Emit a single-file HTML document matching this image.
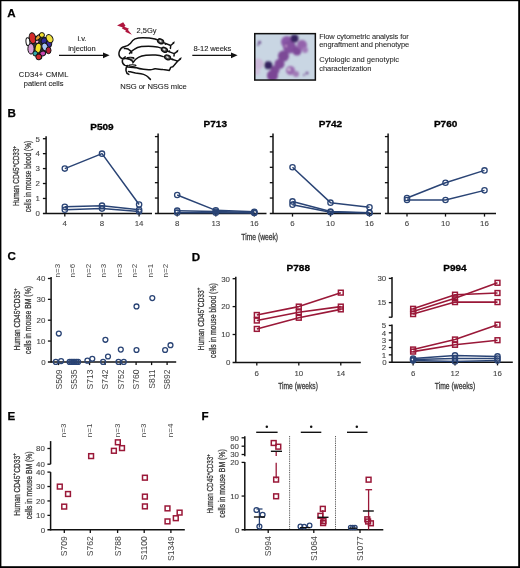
<!DOCTYPE html>
<html><head><meta charset="utf-8"><title>Figure</title>
<style>
html,body{margin:0;padding:0;background:#fff;}
body{width:520px;height:568px;overflow:hidden;}
svg{display:block;font-family:"Liberation Sans", sans-serif;will-change:transform;}
</style></head>
<body>
<svg width="520" height="568" viewBox="0 0 520 568">
<rect width="520" height="568" fill="#fff"/>
<rect x="0" y="0" width="520" height="1.2" fill="#000"/>
<rect x="0" y="0" width="1.4" height="568" fill="#000"/>
<rect x="518.2" y="0" width="1.8" height="568" fill="#000"/>
<rect x="0" y="566.2" width="520" height="1.8" fill="#000"/>
<text x="7.30" y="16.90" font-size="11.6" text-anchor="start" font-weight="bold" fill="#000" stroke="#000" stroke-width="0.25" >A</text>
<text x="7.60" y="116.50" font-size="11.6" text-anchor="start" font-weight="bold" fill="#000" stroke="#000" stroke-width="0.25" >B</text>
<text x="7.40" y="260.40" font-size="11.6" text-anchor="start" font-weight="bold" fill="#000" stroke="#000" stroke-width="0.25" >C</text>
<text x="191.80" y="260.60" font-size="11.6" text-anchor="start" font-weight="bold" fill="#000" stroke="#000" stroke-width="0.25" >D</text>
<text x="7.60" y="420.40" font-size="11.6" text-anchor="start" font-weight="bold" fill="#000" stroke="#000" stroke-width="0.25" >E</text>
<text x="201.40" y="420.40" font-size="11.6" text-anchor="start" font-weight="bold" fill="#000" stroke="#000" stroke-width="0.25" >F</text>
<path d="M31,40 C32,37 34,36 36,36 L40,35.6 L44,36.5 C47,37 49,38 49.5,40.5 C50,43 49.6,46 49,48.5 C48.4,51 47,52.5 45,53.6 C43,55 41.5,56 39,56 C37,56 35.5,54.6 34.4,53.4 C32.6,51.6 31.6,50 31.2,47.5 C30.8,45 30.6,42.5 31,40 Z" fill="#333"/>
<ellipse cx="27.9" cy="41.7" rx="1.95" ry="3.96" transform="rotate(-5 27.9 41.7)" fill="#ffffff" stroke="#151515" stroke-width="1.0"/>
<ellipse cx="37.0" cy="41.2" rx="1.95" ry="2.31" transform="rotate(0 37.0 41.2)" fill="#e8b0e0" stroke="#151515" stroke-width="1.0"/>
<ellipse cx="32.5" cy="38.1" rx="3.22" ry="5.50" transform="rotate(-10 32.5 38.1)" fill="#d42a2a" stroke="#151515" stroke-width="1.0"/>
<ellipse cx="38.1" cy="37.5" rx="1.84" ry="3.41" transform="rotate(45 38.1 37.5)" fill="#e0a030" stroke="#151515" stroke-width="1.0"/>
<ellipse cx="41.9" cy="35.0" rx="2.53" ry="2.42" transform="rotate(0 41.9 35.0)" fill="#f2e030" stroke="#151515" stroke-width="1.0"/>
<ellipse cx="44.6" cy="41.1" rx="3.45" ry="3.30" transform="rotate(20 44.6 41.1)" fill="#2e2a98" stroke="#151515" stroke-width="1.0"/>
<ellipse cx="48.8" cy="43.8" rx="2.88" ry="3.63" transform="rotate(10 48.8 43.8)" fill="#3a2aa0" stroke="#151515" stroke-width="1.0"/>
<ellipse cx="49.6" cy="38.6" rx="3.10" ry="4.29" transform="rotate(-30 49.6 38.6)" fill="#f0e040" stroke="#151515" stroke-width="1.0"/>
<ellipse cx="31.0" cy="48.8" rx="3.10" ry="5.28" transform="rotate(0 31.0 48.8)" fill="#d8a0d8" stroke="#151515" stroke-width="1.0"/>
<ellipse cx="45.0" cy="47.0" rx="2.99" ry="3.96" transform="rotate(-20 45.0 47.0)" fill="#a8c4f4" stroke="#151515" stroke-width="1.0"/>
<ellipse cx="38.1" cy="48.1" rx="2.99" ry="4.95" transform="rotate(10 38.1 48.1)" fill="#f4e428" stroke="#151515" stroke-width="1.0"/>
<ellipse cx="48.5" cy="50.4" rx="2.53" ry="3.30" transform="rotate(0 48.5 50.4)" fill="#b82038" stroke="#151515" stroke-width="1.0"/>
<ellipse cx="35.2" cy="53.5" rx="2.30" ry="2.53" transform="rotate(0 35.2 53.5)" fill="#30a8a8" stroke="#151515" stroke-width="1.0"/>
<ellipse cx="42.7" cy="53.5" rx="2.99" ry="2.42" transform="rotate(-20 42.7 53.5)" fill="#c845b0" stroke="#151515" stroke-width="1.0"/>
<ellipse cx="38.8" cy="56.9" rx="2.88" ry="2.86" transform="rotate(-20 38.8 56.9)" fill="#d02830" stroke="#151515" stroke-width="1.0"/>
<text x="43.60" y="77.20" font-size="7.5" text-anchor="middle" font-weight="normal" fill="#222" stroke="#222" stroke-width="0.1" textLength="49.5">CD34+ CMML</text>
<text x="43.60" y="86.20" font-size="7.5" text-anchor="middle" font-weight="normal" fill="#222" stroke="#222" stroke-width="0.1" >patient cells</text>
<line x1="59.00" y1="55.30" x2="104.50" y2="55.30" stroke="#111" stroke-width="1.3" />
<polygon points="103,52.4 109.6,55.3 103,58.2" fill="#111"/>
<text x="81.90" y="41.40" font-size="7.5" text-anchor="middle" font-weight="normal" fill="#222" stroke="#222" stroke-width="0.1" >i.v.</text>
<text x="81.90" y="51.20" font-size="7.5" text-anchor="middle" font-weight="normal" fill="#222" stroke="#222" stroke-width="0.1" >injection</text>
<polygon points="117.04,25.39 123.22,22.23 125.50,25.86 124.30,26.85 129.04,28.74 127.85,29.73 131.90,34.80 125.25,31.72 126.01,30.79 121.76,28.36 122.83,27.51" fill="#b0163e"/>
<text x="136.60" y="32.70" font-size="7.5" text-anchor="start" font-weight="normal" fill="#222" stroke="#222" stroke-width="0.1" >2,5Gy</text>
<path d="M124.1,46.8 C127,46.2 129,45 130.6,43.2 C132,41 133,39.8 135,38.9 C137.5,37.9 140,37.7 143,37.7 C147,37.7 151,38 155,39 L158.6,40.2 M170.4,48.4 L170.7,45.5 L173.6,43.0 M170.7,45.5 L163.6,42.6 M124.1,46.8 C122.3,47.2 120.4,48.8 119.4,51.2 C118.6,53.4 119,56 120.6,57.6 C121.8,58.8 123.4,59 124.8,58.6 M124.4,48.6 C126.5,48.4 128.8,49 130,50.4 C131,51.4 131.4,52.4 131.8,53 M129.5,53.4 C131,51.8 132.4,50.4 134.2,49.4 C136.5,47.8 139,47 141.5,46.6 C145,46.2 149,46 153,46.4 L157.2,46.9 L162,48.4 M174.0,56.0 L174.2,53.6 L177.4,51.3 M174.2,53.6 L167.4,51.1 M125.2,56.8 C123.6,57.6 122.4,59 122.3,61 C122.3,63 123.2,64.6 125,65.4 C126,65.8 127.2,65.8 127.8,65.6 M125.5,58.4 C128.5,58.6 131.5,59.6 133.2,61.8 M132.8,62.9 C134.2,60.6 136,58.6 138.4,57.4 C140.6,56.2 143,55.6 146,55.3 C149.5,55 152.5,54.9 155.5,55.1 C158.5,55.3 161,55.8 163.2,56.6 M177.7,61.1 C176.6,62.6 175,64 174.2,65.2 L172.8,66.8 L170.6,67.4 C170.2,68.6 169.8,69.8 169.2,70.4 C167,70.2 165,69.6 163,69.6 C160,69.4 157,68.7 155,68.8 C153,69 152.2,69.8 150.5,69.8 C148,69.8 146,69.4 143.5,69.2 C140.5,69 138,68.4 136.5,67.8 M177.7,61.1 L180.5,58.8 M177.7,61.1 L170.5,58.7 M127.8,65.6 C126.4,66.6 125.8,68.6 126,70.6 C126.2,72.4 127.2,73.8 128.8,74.4 M128.6,71.4 C131,72 133,72.6 135.5,73 C138.5,73.4 141,73.6 143.6,74.4 C146,75.2 147.6,76.4 148.6,77.6 L150.4,79.4 M127.8,67 C131,67.2 134,67.6 136.4,67.8" fill="none" stroke="#111" stroke-width="1.5" stroke-linecap="round" stroke-linejoin="round"/>
<ellipse cx="160.6" cy="41.3" rx="3.1" ry="2.2" transform="rotate(25 160.6 41.3)" fill="#5a5a5a" stroke="#111" stroke-width="1.35"/>
<ellipse cx="160.29999999999998" cy="41.099999999999994" rx="1.3" ry="0.7" transform="rotate(25 160.6 41.3)" fill="#e8e8e8"/>
<circle cx="165.5" cy="44.1" r="0.95" fill="#111"/>
<ellipse cx="164.4" cy="49.8" rx="3.1" ry="2.2" transform="rotate(25 164.4 49.8)" fill="#5a5a5a" stroke="#111" stroke-width="1.35"/>
<ellipse cx="164.1" cy="49.599999999999994" rx="1.3" ry="0.7" transform="rotate(25 164.4 49.8)" fill="#e8e8e8"/>
<circle cx="169.3" cy="51.3" r="0.95" fill="#111"/>
<ellipse cx="167.5" cy="57.4" rx="3.1" ry="2.2" transform="rotate(25 167.5 57.4)" fill="#5a5a5a" stroke="#111" stroke-width="1.35"/>
<ellipse cx="167.2" cy="57.199999999999996" rx="1.3" ry="0.7" transform="rotate(25 167.5 57.4)" fill="#e8e8e8"/>
<circle cx="172.5" cy="59.4" r="0.95" fill="#111"/>
<polygon points="174.79999999999998,41.2 172.29999999999998,42.6 173.9,43.9" fill="#111"/>
<polygon points="178.6,49.5 176.1,50.9 177.70000000000002,52.199999999999996" fill="#111"/>
<polygon points="181.7,57.0 179.2,58.4 180.8,59.699999999999996" fill="#111"/>
<ellipse cx="130.4" cy="58.2" rx="3.6" ry="0.9" fill="none" stroke="#111" stroke-width="1.1"/>
<ellipse cx="132.4" cy="65.6" rx="3.6" ry="0.9" fill="none" stroke="#111" stroke-width="1.1"/>
<text x="153.50" y="89.00" font-size="7.6" text-anchor="middle" font-weight="normal" fill="#222" stroke="#222" stroke-width="0.1" textLength="66.5">NSG or NSGS mice</text>
<line x1="192.30" y1="55.30" x2="232.00" y2="55.30" stroke="#111" stroke-width="1.3" />
<polygon points="231.0,52.4 237.6,55.3 231.0,58.2" fill="#111"/>
<text x="193.50" y="50.50" font-size="7.6" text-anchor="start" font-weight="normal" fill="#222" stroke="#222" stroke-width="0.1" textLength="37.8">8-12 weeks</text>
<defs><filter id="bl" x="-20%" y="-20%" width="140%" height="140%"><feGaussianBlur stdDeviation="0.8"/></filter><clipPath id="mc"><rect x="254.8" y="33.7" width="60.5" height="46.3"/></clipPath></defs>
<g clip-path="url(#mc)"><rect x="254" y="33" width="61" height="47" fill="#c9d6e3"/><g filter="url(#bl)"><circle cx="258" cy="64" r="5.5" fill="#cbb8d8"/><circle cx="257" cy="72" r="3" fill="#cfc0dc"/><circle cx="287" cy="42" r="6" fill="#8a58a8"/><circle cx="289.5" cy="47" r="6.5" fill="#83509f"/><circle cx="297" cy="51" r="4.5" fill="#7e4a9a"/><circle cx="302" cy="45" r="5" fill="#9464ac"/><circle cx="305" cy="50" r="3" fill="#a27cba"/><circle cx="283.5" cy="56" r="5.5" fill="#7c4896"/><circle cx="279.5" cy="64" r="5" fill="#7e4a98"/><circle cx="275" cy="70" r="4.5" fill="#7c4896"/><circle cx="272.5" cy="75.5" r="5.5" fill="#7a4494"/><circle cx="290.5" cy="70.5" r="4.5" fill="#9a6cb0"/><circle cx="296" cy="74" r="3" fill="#a07ab6"/><circle cx="294.5" cy="38.5" r="4" fill="#34205e"/><circle cx="268.3" cy="65.3" r="4" fill="#34225e"/><circle cx="259.5" cy="42.4" r="1.6" fill="#6a4a8a"/><circle cx="258" cy="45" r="1.0" fill="#6a4a8a"/><circle cx="307" cy="73" r="1.6" fill="#7a5a9a"/><circle cx="304" cy="75" r="1.0" fill="#7a5a9a"/><circle cx="289" cy="69.5" r="1.3" fill="#e8d8ee"/><circle cx="286" cy="46" r="1.2" fill="#c090c8"/></g></g>
<rect x="254.75" y="33.65" width="60.6" height="46.4" fill="none" stroke="#111" stroke-width="1.5"/>
<text x="319.20" y="38.80" font-size="7.5" text-anchor="start" font-weight="normal" fill="#2a2a2a" stroke="#2a2a2a" stroke-width="0.08" textLength="89.6">Flow cytometric analysis for</text>
<text x="319.20" y="47.30" font-size="7.5" text-anchor="start" font-weight="normal" fill="#2a2a2a" stroke="#2a2a2a" stroke-width="0.08" textLength="90.0">engraftment and phenotype</text>
<text x="319.20" y="62.10" font-size="7.5" text-anchor="start" font-weight="normal" fill="#2a2a2a" stroke="#2a2a2a" stroke-width="0.08" textLength="79.8">Cytologic and genotypic</text>
<text x="319.20" y="70.60" font-size="7.5" text-anchor="start" font-weight="normal" fill="#2a2a2a" stroke="#2a2a2a" stroke-width="0.08" textLength="52.2">characterization</text>
<line x1="46.10" y1="136.20" x2="46.10" y2="214.10" stroke="#111" stroke-width="1.5" />
<line x1="42.90" y1="213.40" x2="152.00" y2="213.40" stroke="#111" stroke-width="1.5" />
<line x1="42.90" y1="198.46" x2="46.10" y2="198.46" stroke="#111" stroke-width="1.3" />
<text x="39.90" y="201.31" font-size="7.9" text-anchor="end" font-weight="normal" fill="#444" stroke="#444" stroke-width="0.1" >1</text>
<line x1="42.90" y1="183.52" x2="46.10" y2="183.52" stroke="#111" stroke-width="1.3" />
<text x="39.90" y="186.37" font-size="7.9" text-anchor="end" font-weight="normal" fill="#444" stroke="#444" stroke-width="0.1" >2</text>
<line x1="42.90" y1="168.58" x2="46.10" y2="168.58" stroke="#111" stroke-width="1.3" />
<text x="39.90" y="171.43" font-size="7.9" text-anchor="end" font-weight="normal" fill="#444" stroke="#444" stroke-width="0.1" >3</text>
<line x1="42.90" y1="153.64" x2="46.10" y2="153.64" stroke="#111" stroke-width="1.3" />
<text x="39.90" y="156.49" font-size="7.9" text-anchor="end" font-weight="normal" fill="#444" stroke="#444" stroke-width="0.1" >4</text>
<line x1="42.90" y1="138.70" x2="46.10" y2="138.70" stroke="#111" stroke-width="1.3" />
<text x="39.90" y="141.55" font-size="7.9" text-anchor="end" font-weight="normal" fill="#444" stroke="#444" stroke-width="0.1" >5</text>
<text x="39.90" y="216.25" font-size="7.9" text-anchor="end" font-weight="normal" fill="#444" stroke="#444" stroke-width="0.1" >0</text>
<line x1="64.80" y1="213.40" x2="64.80" y2="216.60" stroke="#111" stroke-width="1.3" />
<text x="64.80" y="226.20" font-size="7.9" text-anchor="middle" font-weight="normal" fill="#444" stroke="#444" stroke-width="0.1" >4</text>
<line x1="102.00" y1="213.40" x2="102.00" y2="216.60" stroke="#111" stroke-width="1.3" />
<text x="102.00" y="226.20" font-size="7.9" text-anchor="middle" font-weight="normal" fill="#444" stroke="#444" stroke-width="0.1" >8</text>
<line x1="139.10" y1="213.40" x2="139.10" y2="216.60" stroke="#111" stroke-width="1.3" />
<text x="139.10" y="226.20" font-size="7.9" text-anchor="middle" font-weight="normal" fill="#444" stroke="#444" stroke-width="0.1" >14</text>
<text x="102.00" y="129.50" font-size="9.2" text-anchor="middle" font-weight="bold" fill="#000" stroke="#000" stroke-width="0.3" textLength="23.4" lengthAdjust="spacingAndGlyphs">P509</text>
<polyline points="64.80,168.58 102.00,153.64 139.10,204.44" fill="none" stroke="#2a4475" stroke-width="1.5" stroke-linejoin="round"/>
<circle cx="64.80" cy="168.58" r="2.65" fill="none" stroke="#2a4475" stroke-width="1.3"/>
<circle cx="102.00" cy="153.64" r="2.65" fill="none" stroke="#2a4475" stroke-width="1.3"/>
<circle cx="139.10" cy="204.44" r="2.65" fill="none" stroke="#2a4475" stroke-width="1.3"/>
<polyline points="64.80,206.83 102.00,205.63 139.10,209.81" fill="none" stroke="#2a4475" stroke-width="1.5" stroke-linejoin="round"/>
<circle cx="64.80" cy="206.83" r="2.65" fill="none" stroke="#2a4475" stroke-width="1.3"/>
<circle cx="102.00" cy="205.63" r="2.65" fill="none" stroke="#2a4475" stroke-width="1.3"/>
<circle cx="139.10" cy="209.81" r="2.65" fill="none" stroke="#2a4475" stroke-width="1.3"/>
<polyline points="64.80,209.81 102.00,208.62 139.10,211.46" fill="none" stroke="#2a4475" stroke-width="1.5" stroke-linejoin="round"/>
<circle cx="64.80" cy="209.81" r="2.65" fill="none" stroke="#2a4475" stroke-width="1.3"/>
<circle cx="102.00" cy="208.62" r="2.65" fill="none" stroke="#2a4475" stroke-width="1.3"/>
<circle cx="139.10" cy="211.46" r="2.65" fill="none" stroke="#2a4475" stroke-width="1.3"/>
<line x1="158.10" y1="133.40" x2="158.10" y2="214.10" stroke="#111" stroke-width="1.5" />
<line x1="154.90" y1="213.40" x2="266.50" y2="213.40" stroke="#111" stroke-width="1.5" />
<line x1="154.90" y1="198.04" x2="158.10" y2="198.04" stroke="#111" stroke-width="1.3" />
<line x1="154.90" y1="182.68" x2="158.10" y2="182.68" stroke="#111" stroke-width="1.3" />
<line x1="154.90" y1="167.32" x2="158.10" y2="167.32" stroke="#111" stroke-width="1.3" />
<line x1="154.90" y1="151.96" x2="158.10" y2="151.96" stroke="#111" stroke-width="1.3" />
<line x1="154.90" y1="136.60" x2="158.10" y2="136.60" stroke="#111" stroke-width="1.3" />
<line x1="177.20" y1="213.40" x2="177.20" y2="216.60" stroke="#111" stroke-width="1.3" />
<text x="177.20" y="226.20" font-size="7.9" text-anchor="middle" font-weight="normal" fill="#444" stroke="#444" stroke-width="0.1" >8</text>
<line x1="215.80" y1="213.40" x2="215.80" y2="216.60" stroke="#111" stroke-width="1.3" />
<text x="215.80" y="226.20" font-size="7.9" text-anchor="middle" font-weight="normal" fill="#444" stroke="#444" stroke-width="0.1" >13</text>
<line x1="254.30" y1="213.40" x2="254.30" y2="216.60" stroke="#111" stroke-width="1.3" />
<text x="254.30" y="226.20" font-size="7.9" text-anchor="middle" font-weight="normal" fill="#444" stroke="#444" stroke-width="0.1" >16</text>
<text x="215.30" y="126.80" font-size="9.2" text-anchor="middle" font-weight="bold" fill="#000" stroke="#000" stroke-width="0.3" textLength="23.4" lengthAdjust="spacingAndGlyphs">P713</text>
<polyline points="177.20,194.97 215.80,210.33 254.30,211.86" fill="none" stroke="#2a4475" stroke-width="1.5" stroke-linejoin="round"/>
<circle cx="177.20" cy="194.97" r="2.65" fill="none" stroke="#2a4475" stroke-width="1.3"/>
<circle cx="215.80" cy="210.33" r="2.65" fill="none" stroke="#2a4475" stroke-width="1.3"/>
<circle cx="254.30" cy="211.86" r="2.65" fill="none" stroke="#2a4475" stroke-width="1.3"/>
<polyline points="177.20,210.64 215.80,211.56 254.30,212.48" fill="none" stroke="#2a4475" stroke-width="1.5" stroke-linejoin="round"/>
<circle cx="177.20" cy="210.64" r="2.65" fill="none" stroke="#2a4475" stroke-width="1.3"/>
<circle cx="215.80" cy="211.56" r="2.65" fill="none" stroke="#2a4475" stroke-width="1.3"/>
<circle cx="254.30" cy="212.48" r="2.65" fill="none" stroke="#2a4475" stroke-width="1.3"/>
<polyline points="177.20,212.63 215.80,212.63 254.30,212.94" fill="none" stroke="#2a4475" stroke-width="1.5" stroke-linejoin="round"/>
<circle cx="177.20" cy="212.63" r="2.65" fill="none" stroke="#2a4475" stroke-width="1.3"/>
<circle cx="215.80" cy="212.63" r="2.65" fill="none" stroke="#2a4475" stroke-width="1.3"/>
<circle cx="254.30" cy="212.94" r="2.65" fill="none" stroke="#2a4475" stroke-width="1.3"/>
<line x1="273.00" y1="133.40" x2="273.00" y2="214.10" stroke="#111" stroke-width="1.5" />
<line x1="269.80" y1="213.40" x2="381.00" y2="213.40" stroke="#111" stroke-width="1.5" />
<line x1="269.80" y1="198.04" x2="273.00" y2="198.04" stroke="#111" stroke-width="1.3" />
<line x1="269.80" y1="182.68" x2="273.00" y2="182.68" stroke="#111" stroke-width="1.3" />
<line x1="269.80" y1="167.32" x2="273.00" y2="167.32" stroke="#111" stroke-width="1.3" />
<line x1="269.80" y1="151.96" x2="273.00" y2="151.96" stroke="#111" stroke-width="1.3" />
<line x1="269.80" y1="136.60" x2="273.00" y2="136.60" stroke="#111" stroke-width="1.3" />
<line x1="292.50" y1="213.40" x2="292.50" y2="216.60" stroke="#111" stroke-width="1.3" />
<text x="292.50" y="226.20" font-size="7.9" text-anchor="middle" font-weight="normal" fill="#444" stroke="#444" stroke-width="0.1" >6</text>
<line x1="330.50" y1="213.40" x2="330.50" y2="216.60" stroke="#111" stroke-width="1.3" />
<text x="330.50" y="226.20" font-size="7.9" text-anchor="middle" font-weight="normal" fill="#444" stroke="#444" stroke-width="0.1" >10</text>
<line x1="369.50" y1="213.40" x2="369.50" y2="216.60" stroke="#111" stroke-width="1.3" />
<text x="369.50" y="226.20" font-size="7.9" text-anchor="middle" font-weight="normal" fill="#444" stroke="#444" stroke-width="0.1" >16</text>
<text x="330.50" y="126.80" font-size="9.2" text-anchor="middle" font-weight="bold" fill="#000" stroke="#000" stroke-width="0.3" textLength="23.4" lengthAdjust="spacingAndGlyphs">P742</text>
<polyline points="292.50,167.32 330.50,202.65 369.50,207.26" fill="none" stroke="#2a4475" stroke-width="1.5" stroke-linejoin="round"/>
<circle cx="292.50" cy="167.32" r="2.65" fill="none" stroke="#2a4475" stroke-width="1.3"/>
<circle cx="330.50" cy="202.65" r="2.65" fill="none" stroke="#2a4475" stroke-width="1.3"/>
<circle cx="369.50" cy="207.26" r="2.65" fill="none" stroke="#2a4475" stroke-width="1.3"/>
<polyline points="292.50,201.42 330.50,211.56 369.50,212.63" fill="none" stroke="#2a4475" stroke-width="1.5" stroke-linejoin="round"/>
<circle cx="292.50" cy="201.42" r="2.65" fill="none" stroke="#2a4475" stroke-width="1.3"/>
<circle cx="330.50" cy="211.56" r="2.65" fill="none" stroke="#2a4475" stroke-width="1.3"/>
<circle cx="369.50" cy="212.63" r="2.65" fill="none" stroke="#2a4475" stroke-width="1.3"/>
<polyline points="292.50,204.64 330.50,212.32 369.50,213.09" fill="none" stroke="#2a4475" stroke-width="1.5" stroke-linejoin="round"/>
<circle cx="292.50" cy="204.64" r="2.65" fill="none" stroke="#2a4475" stroke-width="1.3"/>
<circle cx="330.50" cy="212.32" r="2.65" fill="none" stroke="#2a4475" stroke-width="1.3"/>
<circle cx="369.50" cy="213.09" r="2.65" fill="none" stroke="#2a4475" stroke-width="1.3"/>
<line x1="388.10" y1="133.40" x2="388.10" y2="214.10" stroke="#111" stroke-width="1.5" />
<line x1="384.90" y1="213.40" x2="496.00" y2="213.40" stroke="#111" stroke-width="1.5" />
<line x1="384.90" y1="198.04" x2="388.10" y2="198.04" stroke="#111" stroke-width="1.3" />
<line x1="384.90" y1="182.68" x2="388.10" y2="182.68" stroke="#111" stroke-width="1.3" />
<line x1="384.90" y1="167.32" x2="388.10" y2="167.32" stroke="#111" stroke-width="1.3" />
<line x1="384.90" y1="151.96" x2="388.10" y2="151.96" stroke="#111" stroke-width="1.3" />
<line x1="384.90" y1="136.60" x2="388.10" y2="136.60" stroke="#111" stroke-width="1.3" />
<line x1="407.00" y1="213.40" x2="407.00" y2="216.60" stroke="#111" stroke-width="1.3" />
<text x="407.00" y="226.20" font-size="7.9" text-anchor="middle" font-weight="normal" fill="#444" stroke="#444" stroke-width="0.1" >6</text>
<line x1="445.50" y1="213.40" x2="445.50" y2="216.60" stroke="#111" stroke-width="1.3" />
<text x="445.50" y="226.20" font-size="7.9" text-anchor="middle" font-weight="normal" fill="#444" stroke="#444" stroke-width="0.1" >10</text>
<line x1="484.50" y1="213.40" x2="484.50" y2="216.60" stroke="#111" stroke-width="1.3" />
<text x="484.50" y="226.20" font-size="7.9" text-anchor="middle" font-weight="normal" fill="#444" stroke="#444" stroke-width="0.1" >16</text>
<text x="445.60" y="126.80" font-size="9.2" text-anchor="middle" font-weight="bold" fill="#000" stroke="#000" stroke-width="0.3" textLength="23.4" lengthAdjust="spacingAndGlyphs">P760</text>
<polyline points="407.00,198.04 445.50,182.68 484.50,170.39" fill="none" stroke="#2a4475" stroke-width="1.5" stroke-linejoin="round"/>
<circle cx="407.00" cy="198.04" r="2.65" fill="none" stroke="#2a4475" stroke-width="1.3"/>
<circle cx="445.50" cy="182.68" r="2.65" fill="none" stroke="#2a4475" stroke-width="1.3"/>
<circle cx="484.50" cy="170.39" r="2.65" fill="none" stroke="#2a4475" stroke-width="1.3"/>
<polyline points="407.00,200.04 445.50,200.04 484.50,190.36" fill="none" stroke="#2a4475" stroke-width="1.5" stroke-linejoin="round"/>
<circle cx="407.00" cy="200.04" r="2.65" fill="none" stroke="#2a4475" stroke-width="1.3"/>
<circle cx="445.50" cy="200.04" r="2.65" fill="none" stroke="#2a4475" stroke-width="1.3"/>
<circle cx="484.50" cy="190.36" r="2.65" fill="none" stroke="#2a4475" stroke-width="1.3"/>
<text transform="translate(19.21,176.00) rotate(-90)" font-size="9.2" text-anchor="middle" fill="#3a3a3a" stroke="#3a3a3a" stroke-width="0.3" textLength="60" lengthAdjust="spacingAndGlyphs">Human CD45<tspan dy="-3.2" font-size="6.2">+</tspan><tspan dy="3.2">CD33</tspan><tspan dy="-3.2" font-size="6.2">+</tspan></text>
<text transform="translate(31.01,176.50) rotate(-90)" font-size="9.2" text-anchor="middle" fill="#3a3a3a" stroke="#3a3a3a" stroke-width="0.3" textLength="71.3" lengthAdjust="spacingAndGlyphs">cells in mouse blood (%)</text>
<text x="259.70" y="239.90" font-size="9" text-anchor="middle" font-weight="normal" fill="#444"  stroke="#333" stroke-width="0.3" textLength="36.8" lengthAdjust="spacingAndGlyphs">Time (week)</text>
<line x1="51.10" y1="277.00" x2="51.10" y2="362.60" stroke="#111" stroke-width="1.5" />
<line x1="47.90" y1="361.90" x2="176.20" y2="361.90" stroke="#111" stroke-width="1.5" />
<line x1="47.90" y1="341.05" x2="51.10" y2="341.05" stroke="#111" stroke-width="1.3" />
<text x="45.30" y="343.90" font-size="7.9" text-anchor="end" font-weight="normal" fill="#444" stroke="#444" stroke-width="0.1" >10</text>
<line x1="47.90" y1="320.20" x2="51.10" y2="320.20" stroke="#111" stroke-width="1.3" />
<text x="45.30" y="323.05" font-size="7.9" text-anchor="end" font-weight="normal" fill="#444" stroke="#444" stroke-width="0.1" >20</text>
<line x1="47.90" y1="299.35" x2="51.10" y2="299.35" stroke="#111" stroke-width="1.3" />
<text x="45.30" y="302.20" font-size="7.9" text-anchor="end" font-weight="normal" fill="#444" stroke="#444" stroke-width="0.1" >30</text>
<line x1="47.90" y1="278.50" x2="51.10" y2="278.50" stroke="#111" stroke-width="1.3" />
<text x="45.30" y="281.35" font-size="7.9" text-anchor="end" font-weight="normal" fill="#444" stroke="#444" stroke-width="0.1" >40</text>
<text x="45.70" y="364.75" font-size="7.9" text-anchor="end" font-weight="normal" fill="#444" stroke="#444" stroke-width="0.1" >0</text>
<line x1="58.60" y1="361.90" x2="58.60" y2="365.10" stroke="#111" stroke-width="1.3" />
<text transform="translate(61.70,369.40) rotate(-90)" font-size="8.6" text-anchor="end" fill="#444"  >S509</text>
<text transform="translate(59.88,270.60) rotate(-90)" font-size="8.0" text-anchor="middle" fill="#444"  >n=3</text>
<line x1="74.10" y1="361.90" x2="74.10" y2="365.10" stroke="#111" stroke-width="1.3" />
<text transform="translate(77.20,369.40) rotate(-90)" font-size="8.6" text-anchor="end" fill="#444"  >S535</text>
<text transform="translate(75.38,270.60) rotate(-90)" font-size="8.0" text-anchor="middle" fill="#444"  >n=6</text>
<line x1="89.60" y1="361.90" x2="89.60" y2="365.10" stroke="#111" stroke-width="1.3" />
<text transform="translate(92.70,369.40) rotate(-90)" font-size="8.6" text-anchor="end" fill="#444"  >S713</text>
<text transform="translate(90.88,270.60) rotate(-90)" font-size="8.0" text-anchor="middle" fill="#444"  >n=2</text>
<line x1="105.10" y1="361.90" x2="105.10" y2="365.10" stroke="#111" stroke-width="1.3" />
<text transform="translate(108.20,369.40) rotate(-90)" font-size="8.6" text-anchor="end" fill="#444"  >S742</text>
<text transform="translate(106.38,270.60) rotate(-90)" font-size="8.0" text-anchor="middle" fill="#444"  >n=3</text>
<line x1="120.60" y1="361.90" x2="120.60" y2="365.10" stroke="#111" stroke-width="1.3" />
<text transform="translate(123.70,369.40) rotate(-90)" font-size="8.6" text-anchor="end" fill="#444"  >S752</text>
<text transform="translate(121.88,270.60) rotate(-90)" font-size="8.0" text-anchor="middle" fill="#444"  >n=3</text>
<line x1="136.10" y1="361.90" x2="136.10" y2="365.10" stroke="#111" stroke-width="1.3" />
<text transform="translate(139.20,369.40) rotate(-90)" font-size="8.6" text-anchor="end" fill="#444"  >S760</text>
<text transform="translate(137.38,270.60) rotate(-90)" font-size="8.0" text-anchor="middle" fill="#444"  >n=2</text>
<line x1="151.60" y1="361.90" x2="151.60" y2="365.10" stroke="#111" stroke-width="1.3" />
<text transform="translate(154.70,369.40) rotate(-90)" font-size="8.6" text-anchor="end" fill="#444"  >S811</text>
<text transform="translate(152.88,270.60) rotate(-90)" font-size="8.0" text-anchor="middle" fill="#444"  >n=1</text>
<line x1="167.10" y1="361.90" x2="167.10" y2="365.10" stroke="#111" stroke-width="1.3" />
<text transform="translate(170.20,369.40) rotate(-90)" font-size="8.6" text-anchor="end" fill="#444"  >S892</text>
<text transform="translate(168.38,270.60) rotate(-90)" font-size="8.0" text-anchor="middle" fill="#444"  >n=2</text>
<circle cx="58.80" cy="333.54" r="2.45" fill="none" stroke="#2a4475" stroke-width="1.3"/>
<circle cx="55.80" cy="361.90" r="2.45" fill="none" stroke="#2a4475" stroke-width="1.3"/>
<circle cx="61.10" cy="361.07" r="2.45" fill="none" stroke="#2a4475" stroke-width="1.3"/>
<circle cx="69.60" cy="361.90" r="2.45" fill="none" stroke="#2a4475" stroke-width="1.3"/>
<circle cx="71.30" cy="361.90" r="2.45" fill="none" stroke="#2a4475" stroke-width="1.3"/>
<circle cx="73.00" cy="361.90" r="2.45" fill="none" stroke="#2a4475" stroke-width="1.3"/>
<circle cx="74.70" cy="361.90" r="2.45" fill="none" stroke="#2a4475" stroke-width="1.3"/>
<circle cx="76.40" cy="361.90" r="2.45" fill="none" stroke="#2a4475" stroke-width="1.3"/>
<circle cx="78.10" cy="361.90" r="2.45" fill="none" stroke="#2a4475" stroke-width="1.3"/>
<circle cx="87.40" cy="360.65" r="2.45" fill="none" stroke="#2a4475" stroke-width="1.3"/>
<circle cx="92.30" cy="358.77" r="2.45" fill="none" stroke="#2a4475" stroke-width="1.3"/>
<circle cx="103.10" cy="361.90" r="2.45" fill="none" stroke="#2a4475" stroke-width="1.3"/>
<circle cx="105.40" cy="339.80" r="2.45" fill="none" stroke="#2a4475" stroke-width="1.3"/>
<circle cx="108.00" cy="356.48" r="2.45" fill="none" stroke="#2a4475" stroke-width="1.3"/>
<circle cx="118.50" cy="361.90" r="2.45" fill="none" stroke="#2a4475" stroke-width="1.3"/>
<circle cx="120.80" cy="349.60" r="2.45" fill="none" stroke="#2a4475" stroke-width="1.3"/>
<circle cx="123.80" cy="361.90" r="2.45" fill="none" stroke="#2a4475" stroke-width="1.3"/>
<circle cx="136.50" cy="306.44" r="2.45" fill="none" stroke="#2a4475" stroke-width="1.3"/>
<circle cx="136.50" cy="350.02" r="2.45" fill="none" stroke="#2a4475" stroke-width="1.3"/>
<circle cx="152.30" cy="298.10" r="2.45" fill="none" stroke="#2a4475" stroke-width="1.3"/>
<circle cx="165.10" cy="350.02" r="2.45" fill="none" stroke="#2a4475" stroke-width="1.3"/>
<circle cx="170.50" cy="345.22" r="2.45" fill="none" stroke="#2a4475" stroke-width="1.3"/>
<text transform="translate(19.81,319.50) rotate(-90)" font-size="9.2" text-anchor="middle" fill="#3a3a3a" stroke="#3a3a3a" stroke-width="0.3" textLength="62" lengthAdjust="spacingAndGlyphs">Human CD45<tspan dy="-3.2" font-size="6.2">+</tspan><tspan dy="3.2">CD33</tspan><tspan dy="-3.2" font-size="6.2">+</tspan></text>
<text transform="translate(31.01,320.00) rotate(-90)" font-size="9.2" text-anchor="middle" fill="#3a3a3a" stroke="#3a3a3a" stroke-width="0.3" textLength="68" lengthAdjust="spacingAndGlyphs">cells in mouse BM (%)</text>
<line x1="235.80" y1="276.70" x2="235.80" y2="363.10" stroke="#111" stroke-width="1.5" />
<line x1="232.60" y1="362.40" x2="360.80" y2="362.40" stroke="#111" stroke-width="1.5" />
<line x1="232.60" y1="334.50" x2="235.80" y2="334.50" stroke="#111" stroke-width="1.3" />
<text x="230.00" y="337.35" font-size="7.9" text-anchor="end" font-weight="normal" fill="#444" stroke="#444" stroke-width="0.1" >10</text>
<line x1="232.60" y1="306.60" x2="235.80" y2="306.60" stroke="#111" stroke-width="1.3" />
<text x="230.00" y="309.45" font-size="7.9" text-anchor="end" font-weight="normal" fill="#444" stroke="#444" stroke-width="0.1" >20</text>
<line x1="232.60" y1="278.70" x2="235.80" y2="278.70" stroke="#111" stroke-width="1.3" />
<text x="230.00" y="281.55" font-size="7.9" text-anchor="end" font-weight="normal" fill="#444" stroke="#444" stroke-width="0.1" >30</text>
<text x="230.40" y="365.25" font-size="7.9" text-anchor="end" font-weight="normal" fill="#444" stroke="#444" stroke-width="0.1" >0</text>
<line x1="256.80" y1="362.40" x2="256.80" y2="365.60" stroke="#111" stroke-width="1.3" />
<text x="256.80" y="375.50" font-size="7.9" text-anchor="middle" font-weight="normal" fill="#444" stroke="#444" stroke-width="0.1" >6</text>
<line x1="298.80" y1="362.40" x2="298.80" y2="365.60" stroke="#111" stroke-width="1.3" />
<text x="298.80" y="375.50" font-size="7.9" text-anchor="middle" font-weight="normal" fill="#444" stroke="#444" stroke-width="0.1" >10</text>
<line x1="340.80" y1="362.40" x2="340.80" y2="365.60" stroke="#111" stroke-width="1.3" />
<text x="340.80" y="375.50" font-size="7.9" text-anchor="middle" font-weight="normal" fill="#444" stroke="#444" stroke-width="0.1" >14</text>
<text x="298.30" y="270.60" font-size="9.2" text-anchor="middle" font-weight="bold" fill="#000" stroke="#000" stroke-width="0.3" textLength="23.4" lengthAdjust="spacingAndGlyphs">P788</text>
<text x="298.10" y="389.00" font-size="9" text-anchor="middle" font-weight="normal" fill="#444"  stroke="#333" stroke-width="0.3" textLength="39.6" lengthAdjust="spacingAndGlyphs">Time (weeks)</text>
<polyline points="256.80,314.97 298.80,306.60 340.80,292.65" fill="none" stroke="#9a1838" stroke-width="1.6" stroke-linejoin="round"/>
<rect x="254.40" y="312.57" width="4.8" height="4.8" fill="none" stroke="#9a1838" stroke-width="1.5"/>
<rect x="296.40" y="304.20" width="4.8" height="4.8" fill="none" stroke="#9a1838" stroke-width="1.5"/>
<rect x="338.40" y="290.25" width="4.8" height="4.8" fill="none" stroke="#9a1838" stroke-width="1.5"/>
<polyline points="256.80,320.55 298.80,312.18 340.80,306.60" fill="none" stroke="#9a1838" stroke-width="1.6" stroke-linejoin="round"/>
<rect x="254.40" y="318.15" width="4.8" height="4.8" fill="none" stroke="#9a1838" stroke-width="1.5"/>
<rect x="296.40" y="309.78" width="4.8" height="4.8" fill="none" stroke="#9a1838" stroke-width="1.5"/>
<rect x="338.40" y="304.20" width="4.8" height="4.8" fill="none" stroke="#9a1838" stroke-width="1.5"/>
<polyline points="256.80,328.92 298.80,317.76 340.80,309.39" fill="none" stroke="#9a1838" stroke-width="1.6" stroke-linejoin="round"/>
<rect x="254.40" y="326.52" width="4.8" height="4.8" fill="none" stroke="#9a1838" stroke-width="1.5"/>
<rect x="296.40" y="315.36" width="4.8" height="4.8" fill="none" stroke="#9a1838" stroke-width="1.5"/>
<rect x="338.40" y="306.99" width="4.8" height="4.8" fill="none" stroke="#9a1838" stroke-width="1.5"/>
<text transform="translate(203.61,318.90) rotate(-90)" font-size="9.2" text-anchor="middle" fill="#3a3a3a" stroke="#3a3a3a" stroke-width="0.3" textLength="62.5" lengthAdjust="spacingAndGlyphs">Human CD45<tspan dy="-3.2" font-size="6.2">+</tspan><tspan dy="3.2">CD33</tspan><tspan dy="-3.2" font-size="6.2">+</tspan></text>
<text transform="translate(215.91,320.60) rotate(-90)" font-size="9.2" text-anchor="middle" fill="#3a3a3a" stroke="#3a3a3a" stroke-width="0.3" textLength="74.8" lengthAdjust="spacingAndGlyphs">cells in mouse blood (%)</text>
<line x1="392.00" y1="277.00" x2="392.00" y2="317.60" stroke="#111" stroke-width="1.5" />
<line x1="392.00" y1="324.40" x2="392.00" y2="362.90" stroke="#111" stroke-width="1.5" />
<line x1="388.80" y1="362.20" x2="512.80" y2="362.20" stroke="#111" stroke-width="1.5" />
<line x1="388.80" y1="278.40" x2="392.00" y2="278.40" stroke="#111" stroke-width="1.3" />
<text x="386.20" y="281.25" font-size="7.9" text-anchor="end" font-weight="normal" fill="#444" stroke="#444" stroke-width="0.1" >30</text>
<line x1="388.80" y1="302.60" x2="392.00" y2="302.60" stroke="#111" stroke-width="1.3" />
<text x="386.20" y="305.45" font-size="7.9" text-anchor="end" font-weight="normal" fill="#444" stroke="#444" stroke-width="0.1" >15</text>
<line x1="388.80" y1="317.20" x2="392.00" y2="317.20" stroke="#111" stroke-width="1.3" />
<line x1="388.80" y1="354.85" x2="392.00" y2="354.85" stroke="#111" stroke-width="1.3" />
<text x="386.20" y="357.70" font-size="7.9" text-anchor="end" font-weight="normal" fill="#444" stroke="#444" stroke-width="0.1" >1</text>
<line x1="388.80" y1="347.50" x2="392.00" y2="347.50" stroke="#111" stroke-width="1.3" />
<text x="386.20" y="350.35" font-size="7.9" text-anchor="end" font-weight="normal" fill="#444" stroke="#444" stroke-width="0.1" >2</text>
<line x1="388.80" y1="340.15" x2="392.00" y2="340.15" stroke="#111" stroke-width="1.3" />
<text x="386.20" y="343.00" font-size="7.9" text-anchor="end" font-weight="normal" fill="#444" stroke="#444" stroke-width="0.1" >3</text>
<line x1="388.80" y1="332.80" x2="392.00" y2="332.80" stroke="#111" stroke-width="1.3" />
<text x="386.20" y="335.65" font-size="7.9" text-anchor="end" font-weight="normal" fill="#444" stroke="#444" stroke-width="0.1" >4</text>
<line x1="388.80" y1="325.45" x2="392.00" y2="325.45" stroke="#111" stroke-width="1.3" />
<text x="386.20" y="328.30" font-size="7.9" text-anchor="end" font-weight="normal" fill="#444" stroke="#444" stroke-width="0.1" >5</text>
<text x="386.60" y="365.05" font-size="7.9" text-anchor="end" font-weight="normal" fill="#444" stroke="#444" stroke-width="0.1" >0</text>
<line x1="413.10" y1="362.20" x2="413.10" y2="365.40" stroke="#111" stroke-width="1.3" />
<text x="413.10" y="375.50" font-size="7.9" text-anchor="middle" font-weight="normal" fill="#444" stroke="#444" stroke-width="0.1" >6</text>
<line x1="455.00" y1="362.20" x2="455.00" y2="365.40" stroke="#111" stroke-width="1.3" />
<text x="455.00" y="375.50" font-size="7.9" text-anchor="middle" font-weight="normal" fill="#444" stroke="#444" stroke-width="0.1" >12</text>
<line x1="497.50" y1="362.20" x2="497.50" y2="365.40" stroke="#111" stroke-width="1.3" />
<text x="497.50" y="375.50" font-size="7.9" text-anchor="middle" font-weight="normal" fill="#444" stroke="#444" stroke-width="0.1" >16</text>
<text x="455.00" y="270.60" font-size="9.2" text-anchor="middle" font-weight="bold" fill="#000" stroke="#000" stroke-width="0.3" textLength="23.4" lengthAdjust="spacingAndGlyphs">P994</text>
<text x="455.00" y="388.80" font-size="9" text-anchor="middle" font-weight="normal" fill="#444"  stroke="#333" stroke-width="0.3" textLength="40.4" lengthAdjust="spacingAndGlyphs">Time (weeks)</text>
<polyline points="413.10,308.80 455.00,294.70 497.50,293.00" fill="none" stroke="#9a1838" stroke-width="1.6" stroke-linejoin="round"/>
<rect x="410.70" y="306.40" width="4.8" height="4.8" fill="none" stroke="#9a1838" stroke-width="1.5"/>
<rect x="452.60" y="292.30" width="4.8" height="4.8" fill="none" stroke="#9a1838" stroke-width="1.5"/>
<rect x="495.10" y="290.60" width="4.8" height="4.8" fill="none" stroke="#9a1838" stroke-width="1.5"/>
<polyline points="413.10,311.40 455.00,298.30 497.50,282.80" fill="none" stroke="#9a1838" stroke-width="1.6" stroke-linejoin="round"/>
<rect x="410.70" y="309.00" width="4.8" height="4.8" fill="none" stroke="#9a1838" stroke-width="1.5"/>
<rect x="452.60" y="295.90" width="4.8" height="4.8" fill="none" stroke="#9a1838" stroke-width="1.5"/>
<rect x="495.10" y="280.40" width="4.8" height="4.8" fill="none" stroke="#9a1838" stroke-width="1.5"/>
<polyline points="413.10,314.10 455.00,302.10 497.50,302.10" fill="none" stroke="#9a1838" stroke-width="1.6" stroke-linejoin="round"/>
<rect x="410.70" y="311.70" width="4.8" height="4.8" fill="none" stroke="#9a1838" stroke-width="1.5"/>
<rect x="452.60" y="299.70" width="4.8" height="4.8" fill="none" stroke="#9a1838" stroke-width="1.5"/>
<rect x="495.10" y="299.70" width="4.8" height="4.8" fill="none" stroke="#9a1838" stroke-width="1.5"/>
<polyline points="413.10,349.50 455.00,339.50 497.50,324.70" fill="none" stroke="#9a1838" stroke-width="1.6" stroke-linejoin="round"/>
<rect x="410.70" y="347.10" width="4.8" height="4.8" fill="none" stroke="#9a1838" stroke-width="1.5"/>
<rect x="452.60" y="337.10" width="4.8" height="4.8" fill="none" stroke="#9a1838" stroke-width="1.5"/>
<rect x="495.10" y="322.30" width="4.8" height="4.8" fill="none" stroke="#9a1838" stroke-width="1.5"/>
<polyline points="413.10,351.60 455.00,344.80 497.50,340.20" fill="none" stroke="#9a1838" stroke-width="1.6" stroke-linejoin="round"/>
<rect x="410.70" y="349.20" width="4.8" height="4.8" fill="none" stroke="#9a1838" stroke-width="1.5"/>
<rect x="452.60" y="342.40" width="4.8" height="4.8" fill="none" stroke="#9a1838" stroke-width="1.5"/>
<rect x="495.10" y="337.80" width="4.8" height="4.8" fill="none" stroke="#9a1838" stroke-width="1.5"/>
<polyline points="413.10,358.60 455.00,355.40 497.50,356.40" fill="none" stroke="#2a4475" stroke-width="1.5" stroke-linejoin="round"/>
<circle cx="413.10" cy="358.60" r="2.65" fill="none" stroke="#2a4475" stroke-width="1.3"/>
<circle cx="455.00" cy="355.40" r="2.65" fill="none" stroke="#2a4475" stroke-width="1.3"/>
<circle cx="497.50" cy="356.40" r="2.65" fill="none" stroke="#2a4475" stroke-width="1.3"/>
<polyline points="413.10,359.60 455.00,358.60 497.50,358.60" fill="none" stroke="#2a4475" stroke-width="1.5" stroke-linejoin="round"/>
<circle cx="413.10" cy="359.60" r="2.65" fill="none" stroke="#2a4475" stroke-width="1.3"/>
<circle cx="455.00" cy="358.60" r="2.65" fill="none" stroke="#2a4475" stroke-width="1.3"/>
<circle cx="497.50" cy="358.60" r="2.65" fill="none" stroke="#2a4475" stroke-width="1.3"/>
<polyline points="413.10,360.40 455.00,361.40 497.50,360.60" fill="none" stroke="#2a4475" stroke-width="1.5" stroke-linejoin="round"/>
<circle cx="413.10" cy="360.40" r="2.65" fill="none" stroke="#2a4475" stroke-width="1.3"/>
<circle cx="455.00" cy="361.40" r="2.65" fill="none" stroke="#2a4475" stroke-width="1.3"/>
<circle cx="497.50" cy="360.60" r="2.65" fill="none" stroke="#2a4475" stroke-width="1.3"/>
<line x1="50.60" y1="441.10" x2="50.60" y2="464.20" stroke="#111" stroke-width="1.5" />
<line x1="50.60" y1="472.10" x2="50.60" y2="530.50" stroke="#111" stroke-width="1.5" />
<line x1="47.40" y1="529.80" x2="184.80" y2="529.80" stroke="#111" stroke-width="1.5" />
<line x1="47.40" y1="448.50" x2="50.60" y2="448.50" stroke="#111" stroke-width="1.3" />
<text x="44.80" y="451.35" font-size="7.9" text-anchor="end" font-weight="normal" fill="#444" stroke="#444" stroke-width="0.1" >80</text>
<line x1="47.40" y1="464.20" x2="50.60" y2="464.20" stroke="#111" stroke-width="1.3" />
<text x="44.80" y="467.05" font-size="7.9" text-anchor="end" font-weight="normal" fill="#444" stroke="#444" stroke-width="0.1" >40</text>
<line x1="47.40" y1="515.38" x2="50.60" y2="515.38" stroke="#111" stroke-width="1.3" />
<text x="44.80" y="518.23" font-size="7.9" text-anchor="end" font-weight="normal" fill="#444" stroke="#444" stroke-width="0.1" >10</text>
<line x1="47.40" y1="500.95" x2="50.60" y2="500.95" stroke="#111" stroke-width="1.3" />
<text x="44.80" y="503.80" font-size="7.9" text-anchor="end" font-weight="normal" fill="#444" stroke="#444" stroke-width="0.1" >20</text>
<line x1="47.40" y1="486.52" x2="50.60" y2="486.52" stroke="#111" stroke-width="1.3" />
<text x="44.80" y="489.38" font-size="7.9" text-anchor="end" font-weight="normal" fill="#444" stroke="#444" stroke-width="0.1" >30</text>
<line x1="47.40" y1="472.10" x2="50.60" y2="472.10" stroke="#111" stroke-width="1.3" />
<text x="44.80" y="474.95" font-size="7.9" text-anchor="end" font-weight="normal" fill="#444" stroke="#444" stroke-width="0.1" >40</text>
<text x="45.20" y="532.65" font-size="7.9" text-anchor="end" font-weight="normal" fill="#444" stroke="#444" stroke-width="0.1" >0</text>
<line x1="64.30" y1="529.80" x2="64.30" y2="533.00" stroke="#111" stroke-width="1.3" />
<text transform="translate(67.40,536.10) rotate(-90)" font-size="8.6" text-anchor="end" fill="#444"  >S709</text>
<text transform="translate(66.38,430.40) rotate(-90)" font-size="8.0" text-anchor="middle" fill="#444"  >n=3</text>
<line x1="90.30" y1="529.80" x2="90.30" y2="533.00" stroke="#111" stroke-width="1.3" />
<text transform="translate(93.40,536.10) rotate(-90)" font-size="8.6" text-anchor="end" fill="#444"  >S762</text>
<text transform="translate(92.38,430.40) rotate(-90)" font-size="8.0" text-anchor="middle" fill="#444"  >n=1</text>
<line x1="117.60" y1="529.80" x2="117.60" y2="533.00" stroke="#111" stroke-width="1.3" />
<text transform="translate(120.70,536.10) rotate(-90)" font-size="8.6" text-anchor="end" fill="#444"  >S788</text>
<text transform="translate(119.68,430.40) rotate(-90)" font-size="8.0" text-anchor="middle" fill="#444"  >n=3</text>
<line x1="144.20" y1="529.80" x2="144.20" y2="533.00" stroke="#111" stroke-width="1.3" />
<text transform="translate(147.30,536.10) rotate(-90)" font-size="8.6" text-anchor="end" fill="#444"  >S1100</text>
<text transform="translate(146.28,430.40) rotate(-90)" font-size="8.0" text-anchor="middle" fill="#444"  >n=3</text>
<line x1="170.90" y1="529.80" x2="170.90" y2="533.00" stroke="#111" stroke-width="1.3" />
<text transform="translate(174.00,536.10) rotate(-90)" font-size="8.6" text-anchor="end" fill="#444"  >S1349</text>
<text transform="translate(172.98,430.40) rotate(-90)" font-size="8.0" text-anchor="middle" fill="#444"  >n=4</text>
<rect x="57.40" y="484.20" width="4.8" height="4.8" fill="none" stroke="#9a1838" stroke-width="1.5"/>
<rect x="65.60" y="491.60" width="4.8" height="4.8" fill="none" stroke="#9a1838" stroke-width="1.5"/>
<rect x="61.80" y="504.20" width="4.8" height="4.8" fill="none" stroke="#9a1838" stroke-width="1.5"/>
<rect x="88.70" y="453.70" width="4.8" height="4.8" fill="none" stroke="#9a1838" stroke-width="1.5"/>
<rect x="115.45" y="439.90" width="4.8" height="4.8" fill="none" stroke="#9a1838" stroke-width="1.5"/>
<rect x="111.50" y="448.40" width="4.8" height="4.8" fill="none" stroke="#9a1838" stroke-width="1.5"/>
<rect x="119.60" y="445.70" width="4.8" height="4.8" fill="none" stroke="#9a1838" stroke-width="1.5"/>
<rect x="142.50" y="475.30" width="4.8" height="4.8" fill="none" stroke="#9a1838" stroke-width="1.5"/>
<rect x="142.50" y="494.20" width="4.8" height="4.8" fill="none" stroke="#9a1838" stroke-width="1.5"/>
<rect x="142.50" y="504.00" width="4.8" height="4.8" fill="none" stroke="#9a1838" stroke-width="1.5"/>
<rect x="165.10" y="506.00" width="4.8" height="4.8" fill="none" stroke="#9a1838" stroke-width="1.5"/>
<rect x="177.20" y="510.20" width="4.8" height="4.8" fill="none" stroke="#9a1838" stroke-width="1.5"/>
<rect x="173.40" y="515.80" width="4.8" height="4.8" fill="none" stroke="#9a1838" stroke-width="1.5"/>
<rect x="165.10" y="519.00" width="4.8" height="4.8" fill="none" stroke="#9a1838" stroke-width="1.5"/>
<text transform="translate(19.61,484.50) rotate(-90)" font-size="9.2" text-anchor="middle" fill="#3a3a3a" stroke="#3a3a3a" stroke-width="0.3" textLength="62.5" lengthAdjust="spacingAndGlyphs">Human CD45<tspan dy="-3.2" font-size="6.2">+</tspan><tspan dy="3.2">CD33</tspan><tspan dy="-3.2" font-size="6.2">+</tspan></text>
<text transform="translate(31.51,485.30) rotate(-90)" font-size="9.2" text-anchor="middle" fill="#3a3a3a" stroke="#3a3a3a" stroke-width="0.3" textLength="67.8" lengthAdjust="spacingAndGlyphs">cells in mouse BM (%)</text>
<line x1="244.80" y1="436.30" x2="244.80" y2="456.20" stroke="#111" stroke-width="1.5" />
<line x1="244.80" y1="462.00" x2="244.80" y2="530.40" stroke="#111" stroke-width="1.5" />
<line x1="241.60" y1="529.70" x2="383.30" y2="529.70" stroke="#111" stroke-width="1.5" />
<line x1="241.60" y1="437.80" x2="244.80" y2="437.80" stroke="#111" stroke-width="1.3" />
<text x="239.00" y="440.65" font-size="7.9" text-anchor="end" font-weight="normal" fill="#444" stroke="#444" stroke-width="0.1" >90</text>
<line x1="241.60" y1="446.20" x2="244.80" y2="446.20" stroke="#111" stroke-width="1.3" />
<text x="239.00" y="449.05" font-size="7.9" text-anchor="end" font-weight="normal" fill="#444" stroke="#444" stroke-width="0.1" >60</text>
<line x1="241.60" y1="454.50" x2="244.80" y2="454.50" stroke="#111" stroke-width="1.3" />
<text x="239.00" y="457.35" font-size="7.9" text-anchor="end" font-weight="normal" fill="#444" stroke="#444" stroke-width="0.1" >30</text>
<line x1="241.60" y1="462.40" x2="244.80" y2="462.40" stroke="#111" stroke-width="1.3" />
<text x="239.00" y="465.25" font-size="7.9" text-anchor="end" font-weight="normal" fill="#444" stroke="#444" stroke-width="0.1" >20</text>
<line x1="241.60" y1="496.05" x2="244.80" y2="496.05" stroke="#111" stroke-width="1.3" />
<text x="239.00" y="498.90" font-size="7.9" text-anchor="end" font-weight="normal" fill="#444" stroke="#444" stroke-width="0.1" >10</text>
<text x="239.40" y="532.55" font-size="7.9" text-anchor="end" font-weight="normal" fill="#444" stroke="#444" stroke-width="0.1" >0</text>
<line x1="289.60" y1="436.00" x2="289.60" y2="529.00" stroke="#333" stroke-width="0.9" stroke-dasharray="0.9 0.9"/>
<line x1="335.50" y1="436.00" x2="335.50" y2="529.00" stroke="#333" stroke-width="0.9" stroke-dasharray="0.9 0.9"/>
<line x1="256.20" y1="432.30" x2="277.60" y2="432.30" stroke="#111" stroke-width="1.4" />
<circle cx="266.8" cy="426.7" r="1.25" fill="#111"/>
<line x1="300.80" y1="432.30" x2="321.30" y2="432.30" stroke="#111" stroke-width="1.4" />
<circle cx="311.2" cy="426.7" r="1.25" fill="#111"/>
<line x1="347.00" y1="432.30" x2="367.50" y2="432.30" stroke="#111" stroke-width="1.4" />
<circle cx="356.8" cy="426.7" r="1.25" fill="#111"/>
<line x1="268.20" y1="529.70" x2="268.20" y2="532.90" stroke="#111" stroke-width="1.3" />
<text transform="translate(271.30,536.10) rotate(-90)" font-size="8.6" text-anchor="end" fill="#444"  >S994</text>
<line x1="313.80" y1="529.70" x2="313.80" y2="532.90" stroke="#111" stroke-width="1.3" />
<text transform="translate(316.90,536.10) rotate(-90)" font-size="8.6" text-anchor="end" fill="#444"  >S1064</text>
<line x1="360.00" y1="529.70" x2="360.00" y2="532.90" stroke="#111" stroke-width="1.3" />
<text transform="translate(363.10,536.10) rotate(-90)" font-size="8.6" text-anchor="end" fill="#444"  >S1077</text>
<line x1="259.40" y1="509.50" x2="259.40" y2="527.50" stroke="#2a4475" stroke-width="1.3" />
<line x1="256.50" y1="509.00" x2="262.50" y2="509.00" stroke="#2a4475" stroke-width="1.3" />
<circle cx="256.50" cy="510.00" r="2.45" fill="none" stroke="#2a4475" stroke-width="1.3"/>
<circle cx="262.60" cy="514.80" r="2.45" fill="none" stroke="#2a4475" stroke-width="1.3"/>
<circle cx="259.40" cy="526.50" r="2.45" fill="none" stroke="#2a4475" stroke-width="1.3"/>
<line x1="253.90" y1="517.00" x2="265.00" y2="517.00" stroke="#111" stroke-width="1.4" />
<line x1="276.20" y1="451.30" x2="276.20" y2="456.00" stroke="#9a1838" stroke-width="1.3" />
<line x1="276.20" y1="462.80" x2="276.20" y2="478.50" stroke="#9a1838" stroke-width="1.3" />
<rect x="271.30" y="440.60" width="4.8" height="4.8" fill="none" stroke="#9a1838" stroke-width="1.5"/>
<rect x="275.90" y="444.30" width="4.8" height="4.8" fill="none" stroke="#9a1838" stroke-width="1.5"/>
<rect x="273.70" y="477.20" width="4.8" height="4.8" fill="none" stroke="#9a1838" stroke-width="1.5"/>
<rect x="273.70" y="493.90" width="4.8" height="4.8" fill="none" stroke="#9a1838" stroke-width="1.5"/>
<line x1="270.90" y1="451.30" x2="282.00" y2="451.30" stroke="#111" stroke-width="1.4" />
<circle cx="300.40" cy="526.40" r="2.3" fill="none" stroke="#2a4475" stroke-width="1.3"/>
<circle cx="304.20" cy="526.60" r="2.3" fill="none" stroke="#2a4475" stroke-width="1.3"/>
<circle cx="309.60" cy="525.40" r="2.3" fill="none" stroke="#2a4475" stroke-width="1.3"/>
<line x1="300.00" y1="527.60" x2="310.00" y2="527.60" stroke="#111" stroke-width="1.2" />
<line x1="322.80" y1="510.00" x2="322.80" y2="524.00" stroke="#9a1838" stroke-width="1.3" />
<rect x="320.40" y="506.40" width="4.8" height="4.8" fill="none" stroke="#9a1838" stroke-width="1.5"/>
<rect x="318.00" y="513.40" width="4.8" height="4.8" fill="none" stroke="#9a1838" stroke-width="1.5"/>
<rect x="321.10" y="518.80" width="4.8" height="4.8" fill="none" stroke="#9a1838" stroke-width="1.5"/>
<rect x="320.70" y="520.70" width="4.8" height="4.8" fill="none" stroke="#9a1838" stroke-width="1.5"/>
<line x1="317.70" y1="517.30" x2="328.50" y2="517.30" stroke="#111" stroke-width="1.4" />
<circle cx="350.60" cy="527.40" r="2.1" fill="none" stroke="#2a4475" stroke-width="1.3"/>
<circle cx="352.80" cy="527.40" r="2.1" fill="none" stroke="#2a4475" stroke-width="1.3"/>
<circle cx="355.00" cy="527.40" r="2.1" fill="none" stroke="#2a4475" stroke-width="1.3"/>
<line x1="349.00" y1="528.20" x2="357.00" y2="528.20" stroke="#111" stroke-width="1.2" />
<line x1="368.60" y1="489.70" x2="368.60" y2="529.60" stroke="#9a1838" stroke-width="1.3" />
<line x1="365.40" y1="489.70" x2="372.10" y2="489.70" stroke="#9a1838" stroke-width="1.3" />
<rect x="366.20" y="477.30" width="4.8" height="4.8" fill="none" stroke="#9a1838" stroke-width="1.5"/>
<rect x="364.90" y="516.90" width="4.8" height="4.8" fill="none" stroke="#9a1838" stroke-width="1.5"/>
<rect x="368.50" y="520.90" width="4.8" height="4.8" fill="none" stroke="#9a1838" stroke-width="1.5"/>
<rect x="365.70" y="519.10" width="4.8" height="4.8" fill="none" stroke="#9a1838" stroke-width="1.5"/>
<line x1="362.90" y1="511.00" x2="373.80" y2="511.00" stroke="#111" stroke-width="1.4" />
<text transform="translate(213.31,483.90) rotate(-90)" font-size="9.2" text-anchor="middle" fill="#3a3a3a" stroke="#3a3a3a" stroke-width="0.3" textLength="59.4" lengthAdjust="spacingAndGlyphs">Human CD45<tspan dy="-3.2" font-size="6.2">+</tspan><tspan dy="3.2">CD33</tspan><tspan dy="-3.2" font-size="6.2">+</tspan></text>
<text transform="translate(225.01,483.50) rotate(-90)" font-size="9.2" text-anchor="middle" fill="#3a3a3a" stroke="#3a3a3a" stroke-width="0.3" textLength="68.6" lengthAdjust="spacingAndGlyphs">cells in mouse BM (%)</text>
</svg>
</body></html>
